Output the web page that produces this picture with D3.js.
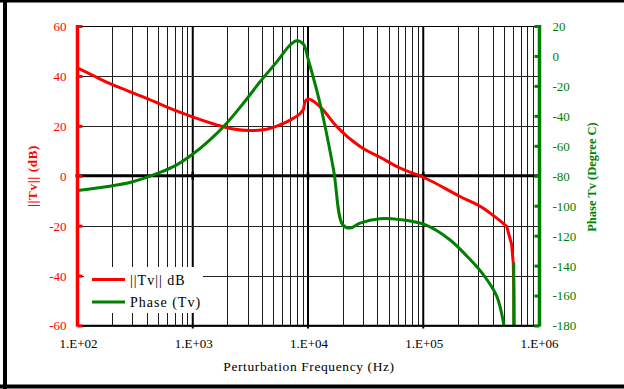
<!DOCTYPE html>
<html>
<head>
<meta charset="utf-8">
<script src="https://cdn.jsdelivr.net/npm/d3@7"></script>
<style>
  html, body { margin: 0; padding: 0; background: #fff; }
  svg { display: block; }
</style>
</head>
<body>
<svg id="chart" width="624" height="389"></svg>
<script>
// Loop gain |Tv| (dB) and phase vs perturbation frequency
const magFreq = [100, 150, 198, 267, 398, 635, 1010, 1613, 2250, 3140, 4100, 5710, 7450, 9100, 9420, 10070, 12700, 17740, 28260, 42200, 62800, 103500, 208300, 332000, 434000, 530000, 585000, 604000, 612000, 616000];
const magDb   = [43.2, 39.2, 36.6, 34.2, 31, 27, 23.5, 20.4, 18.7, 18.1, 18.4, 20.4, 23, 26.4, 29.7, 30.8, 27.7, 19.7, 11.7, 7.4, 3.1, -0.9, -8.3, -13, -17, -20.3, -27.6, -35, -47, -65];

// null entry separates the wrapped tail of the phase curve
const phaseFreq = [100, 191, 295, 520, 726, 1010, 1410, 1970, 2750, 3850, 5380, 6990, 7970, 9100, 10070, 12700, 16660, 19990, 23200, 28260, 42200, 62800, 103500, 170000, 240000, 332000, 434000, 500000, 520000, null, 610000, 610000];
const phaseDeg  = [-89.8, -87, -84.2, -77.8, -72.7, -65.3, -56, -44.9, -31.6, -17.1, -3.8, 7.3, 10.2, 8, -2.7, -31.6, -76, -112.7, -114.9, -111.6, -108.7, -109.3, -112.7, -122.7, -133.8, -146, -160.4, -179.3, -190, null, -138, -190];

const decadeLabels = ["1.E+02", "1.E+03", "1.E+04", "1.E+05", "1.E+06"];
const decades = [1e2, 1e3, 1e4, 1e5, 1e6];
const magTicks = [-60, -40, -20, 0, 20, 40, 60];
const phaseTicks = [-180, -160, -140, -120, -100, -80, -60, -40, -20, 0, 20];

const RED = "#ff0000", GREEN = "#008000";
const SERIF = '"Liberation Serif", "Times New Roman", Times, "DejaVu Serif", serif';
const plain = d => String(d);   // hyphen-minus, as in the printed labels

const svg = d3.select("#chart");
const L = 77.5, R = 538.5, T = 26, B = 325.5;

const x = d3.scaleLog().domain([1e2, 1e6]).range([L, R]);
const yL = d3.scaleLinear().domain([-60, 60]).range([B, T]);
const yR = d3.scaleLinear().domain([-180, 20]).range([B, T]);

// outer frame
svg.append("line").attr("x1", 0).attr("x2", 624).attr("y1", 1).attr("y2", 1).attr("stroke", "#000").attr("stroke-width", 3);
svg.append("line").attr("x1", 0).attr("x2", 624).attr("y1", 386.5).attr("y2", 386.5).attr("stroke", "#000").attr("stroke-width", 4);
svg.append("line").attr("x1", 5).attr("x2", 5).attr("y1", 0).attr("y2", 389).attr("stroke", "#000").attr("stroke-width", 4);

svg.append("defs").append("clipPath").attr("id", "plot")
  .append("rect").attr("x", L).attr("y", T).attr("width", R - L).attr("height", B - T);

// vertical grid: minor lines for 2..9 in each decade, heavier lines on decades
const minor = [];
for (let d = 2; d < 6; d++) for (let m = 2; m <= 9; m++) minor.push(m * Math.pow(10, d));
const grid = svg.append("g");
grid.selectAll("line.minor").data(minor).join("line")
  .attr("x1", d => Math.round(x(d)) + 0.5).attr("x2", d => Math.round(x(d)) + 0.5)
  .attr("y1", T).attr("y2", B)
  .attr("stroke", "#1a1a1a").attr("stroke-width", 1);
grid.selectAll("line.major").data(decades.slice(1, 4)).join("line")
  .attr("x1", d => x(d)).attr("x2", d => x(d))
  .attr("y1", T).attr("y2", B + 3)
  .attr("stroke", "#000").attr("stroke-width", 2);

// horizontal grid
grid.selectAll("line.h").data(magTicks.filter(v => v !== 0)).join("line")
  .attr("x1", L).attr("x2", R)
  .attr("y1", d => Math.round(yL(d)) + 0.5).attr("y2", d => Math.round(yL(d)) + 0.5)
  .attr("stroke", "#222").attr("stroke-width", 1);

// zero line with decade ticks
svg.append("line").attr("x1", L - 2).attr("x2", R).attr("y1", yL(0)).attr("y2", yL(0))
  .attr("stroke", "#000").attr("stroke-width", 3);
svg.append("g").selectAll("line").data(decades.slice(1, 4)).join("line")
  .attr("x1", d => x(d)).attr("x2", d => x(d))
  .attr("y1", yL(0) - 4).attr("y2", yL(0) + 4)
  .attr("stroke", "#000").attr("stroke-width", 2.5);

// data
const plot = svg.append("g").attr("clip-path", "url(#plot)");
const magPts = magFreq.map((f, i) => [f, magDb[i]]);
const phasePts = phaseFreq.map((f, i) => [f, phaseDeg[i]]);

plot.append("path")
  .attr("d", d3.line().curve(d3.curveMonotoneX).x(d => x(d[0])).y(d => yL(d[1]))(magPts.slice(0, 26)) +
             d3.line().x(d => x(d[0])).y(d => yL(d[1]))(magPts.slice(25)).replace("M", "L"))
  .attr("fill", "none").attr("stroke", RED).attr("stroke-width", 3).attr("stroke-linejoin", "round");

const brk = phasePts.findIndex(d => d[0] == null);
const firstPhase = phasePts.slice(0, brk);
const tailPhase = phasePts.slice(brk + 1);
plot.append("path")
  .attr("d", d3.line().curve(d3.curveCatmullRom.alpha(0.5)).x(d => x(d[0])).y(d => yR(d[1]))(firstPhase))
  .attr("fill", "none").attr("stroke", GREEN).attr("stroke-width", 3).attr("stroke-linejoin", "round");
plot.append("path")
  .attr("d", d3.line().x(d => x(d[0])).y(d => yR(d[1]))(tailPhase))
  .attr("fill", "none").attr("stroke", GREEN).attr("stroke-width", 3);

// plot border top/bottom
svg.append("line").attr("x1", L).attr("x2", R).attr("y1", T + 0.5).attr("y2", T + 0.5).attr("stroke", "#000").attr("stroke-width", 1);
svg.append("line").attr("x1", L).attr("x2", R).attr("y1", B).attr("y2", B).attr("stroke", "#000").attr("stroke-width", 1.5);

// left axis (red)
const axL = svg.append("g").attr("transform", `translate(${L},0)`)
  .call(d3.axisLeft(yL).tickValues(magTicks).tickSize(-5).tickPadding(11).tickFormat(plain));
axL.select(".domain").attr("stroke", RED).attr("stroke-width", 3.5).attr("d", `M0,${T - 1}V${B + 1}`);
axL.selectAll(".tick line").attr("stroke", RED).attr("stroke-width", 3);
axL.selectAll(".tick text").attr("fill", RED).attr("dy", "0.34em")
  .style("font-family", SERIF).style("font-size", "13px");

// right axis (green)
const axR = svg.append("g").attr("transform", `translate(${R + 1},0)`)
  .call(d3.axisRight(yR).tickValues(phaseTicks).tickSize(-5).tickPadding(13).tickFormat(plain));
axR.select(".domain").attr("stroke", GREEN).attr("stroke-width", 3.5).attr("d", `M0,${T - 1}V${B + 1}`);
axR.selectAll(".tick line").attr("stroke", GREEN).attr("stroke-width", 3);
axR.selectAll(".tick text").attr("fill", GREEN).attr("dy", "0.34em")
  .style("font-family", SERIF).style("font-size", "13px");

// bottom labels
svg.append("g").selectAll("text").data(decades).join("text")
  .attr("x", d => x(d) + 1).attr("y", 348)
  .attr("text-anchor", "middle").attr("fill", "#000")
  .style("font-family", SERIF).style("font-size", "13px")
  .text((d, i) => decadeLabels[i]);

svg.append("text").attr("x", 309).attr("y", 371).attr("text-anchor", "middle")
  .attr("letter-spacing", 0.6).attr("fill", "#000")
  .style("font-family", SERIF).style("font-size", "13.5px")
  .text("Perturbation Frequency (Hz)");

svg.append("text").attr("transform", "translate(37,176) rotate(-90)").attr("text-anchor", "middle")
  .attr("letter-spacing", 0.7).attr("fill", RED)
  .style("font-family", SERIF).style("font-size", "13px").style("font-weight", "bold")
  .text("||Tv|| (dB)");

svg.append("text").attr("transform", "translate(596,177) rotate(-90)").attr("text-anchor", "middle")
  .attr("fill", GREEN)
  .style("font-family", SERIF).style("font-size", "12.5px").style("font-weight", "bold")
  .text("Phase Tv (Degree C)");

// legend
const lg = svg.append("g");
lg.append("rect").attr("x", 84).attr("y", 267).attr("width", 119).attr("height", 46).attr("fill", "#fff");
const items = [{ label: "||Tv|| dB", color: RED, y: 279.5 }, { label: "Phase (Tv)", color: GREEN, y: 302 }];
items.forEach(it => {
  lg.append("line").attr("x1", 92).attr("x2", 125).attr("y1", it.y).attr("y2", it.y)
    .attr("stroke", it.color).attr("stroke-width", 3);
  lg.append("text").attr("x", 130).attr("y", it.y + 5).attr("letter-spacing", 1)
    .attr("fill", "#000").style("font-family", SERIF).style("font-size", "14px")
    .text(it.label);
});
</script>
</body>
</html>
